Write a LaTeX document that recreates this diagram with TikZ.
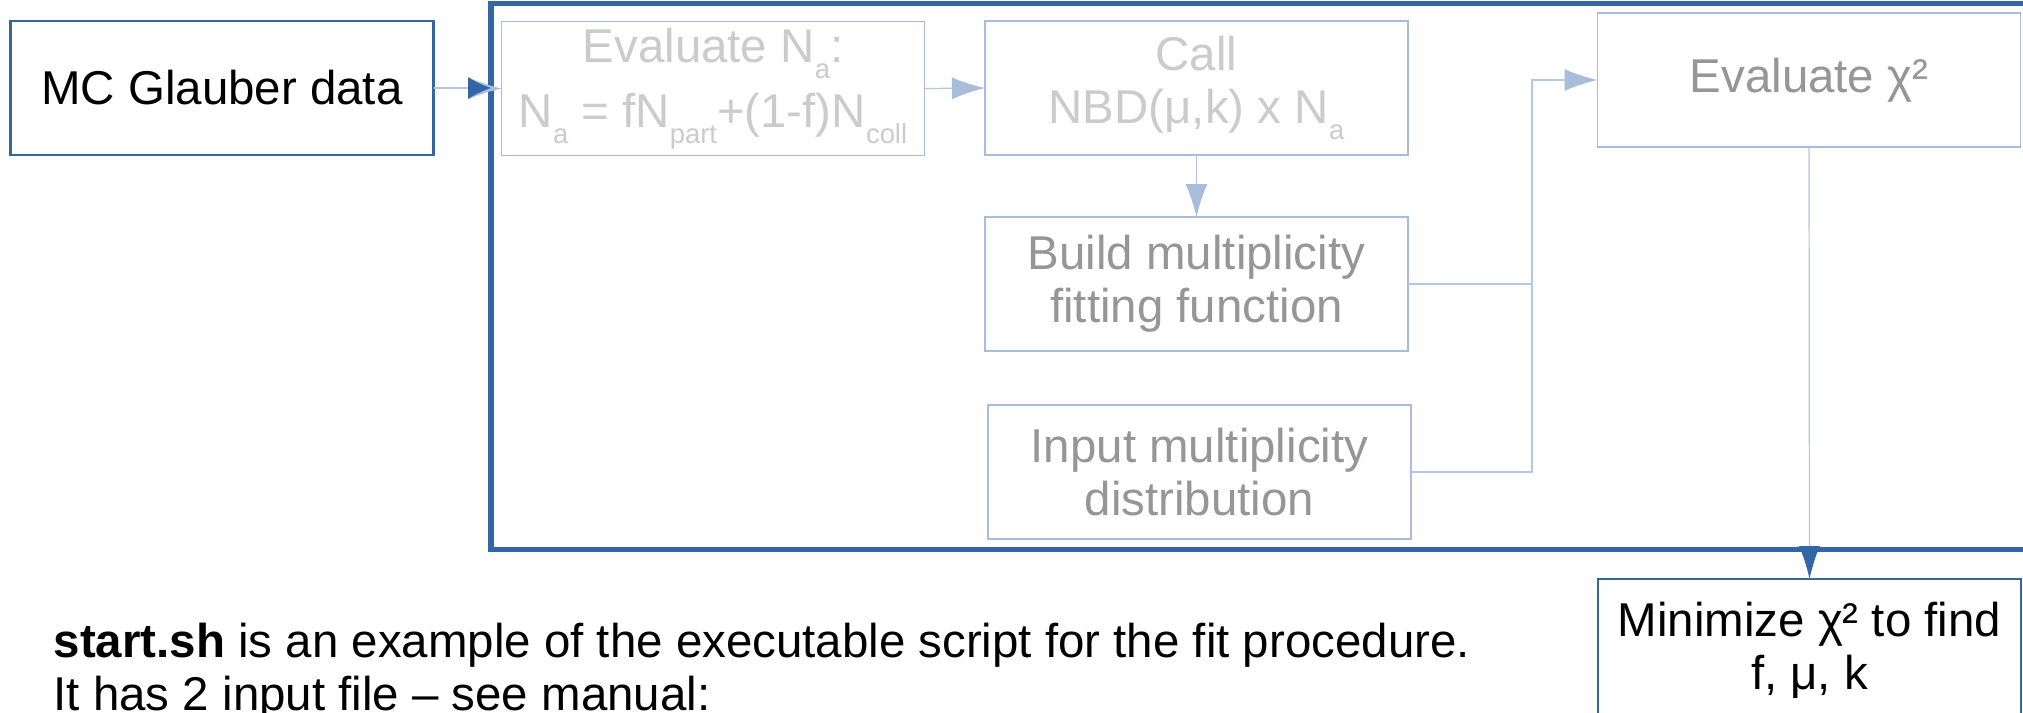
\documentclass[tikz,border=0pt]{standalone}
\usepackage{fontspec}
\setmainfont{Liberation Sans}
\usetikzlibrary{arrows.meta}

\definecolor{darkblue}{HTML}{3465A4}
\definecolor{paleblue}{HTML}{A8BCDC}
\definecolor{linkblue}{HTML}{B4C7E4}
\definecolor{palegray}{HTML}{CBCBCB}
\definecolor{midgray}{HTML}{969696}

\newcommand{\lowsub}[1]{\raisebox{-0.33em}{\fontsize{7.8pt}{8pt}\selectfont #1}}

\begin{document}
\begin{tikzpicture}[
        font=\fontsize{13.5pt}{15pt}\selectfont,
        box/.style={
        rectangle, draw=darkblue, line width=0.7pt,
        minimum width=4.23cm, minimum height=1.34cm,
        inner sep=0pt, outer sep=0pt, align=center},
        pale/.style={box, draw=paleblue, line width=0.55pt},
        link/.style={draw=linkblue, line width=0.35pt},
        lt/.style={-{Latex[length=0.33cm, width=0.22cm, color=paleblue]}},
        dk/.style={-{Latex[length=0.33cm, width=0.21cm, color=darkblue]}},
        ]
        \useasboundingbox (0,0) rectangle (20.23,-7.12);
        \clip (0,0) rectangle (20.23,-7.12);

        \node (fit) [draw=darkblue, line width=1.45pt, outer sep=0pt,
            minimum width=15.7cm, minimum height=5.46cm] at (12.76,-2.765) {};

        \node (mc) [box] at (2.22,-0.88) {MC Glauber data};
        \node (na) [pale, text=palegray] at (7.13,-0.885)
            {Evaluate N\lowsub{a}:\\[0.12cm]N\lowsub{a} = fN\lowsub{part}+(1-f)N\lowsub{coll}};
        \node (call) [pale, text=palegray] at (11.965,-0.88) {Call\\NBD(μ,k) x N\lowsub{a}};
        \node (build) [pale, text=midgray] at (11.965,-2.84) {Build multiplicity\\fitting function};
        \node (input) [pale, text=midgray] at (11.995,-4.72) {Input multiplicity\\distribution};
        \node (chi) [pale, text=midgray] at (18.09,-0.80) {Evaluate χ²};
        \node (mini) [box, minimum height=1.8cm, text depth=0.46cm] at (18.095,-6.69)
            {Minimize χ² to find\\f, μ, k};

        \coordinate (turn) at (15.32,-0.80);

        \draw[link, lt] (mc.east) -- (na.west);
        \draw[link, -{Latex[length=0.23cm, width=0.22cm, color=darkblue]}] (mc.east) -- (mc.east -| fit.west);
        \draw[link, lt] (na.east) -- (call.west);
        \draw[link, lt] (call.south) -- (build.north);
        \draw[link, lt] (build.east) -| (turn) -- (chi.west);
        \draw[link] (input.east) -| (turn);
        \draw[link, dk] (chi.south) -- (mini.north);

        \node (note) [anchor=base west, align=left, inner sep=0pt] at (0.53,-7.10)
            {\textbf{start.sh} is an example of the executable script for the fit procedure.\\It has 2 input file – see manual:};
    \end{tikzpicture}
\end{document}
